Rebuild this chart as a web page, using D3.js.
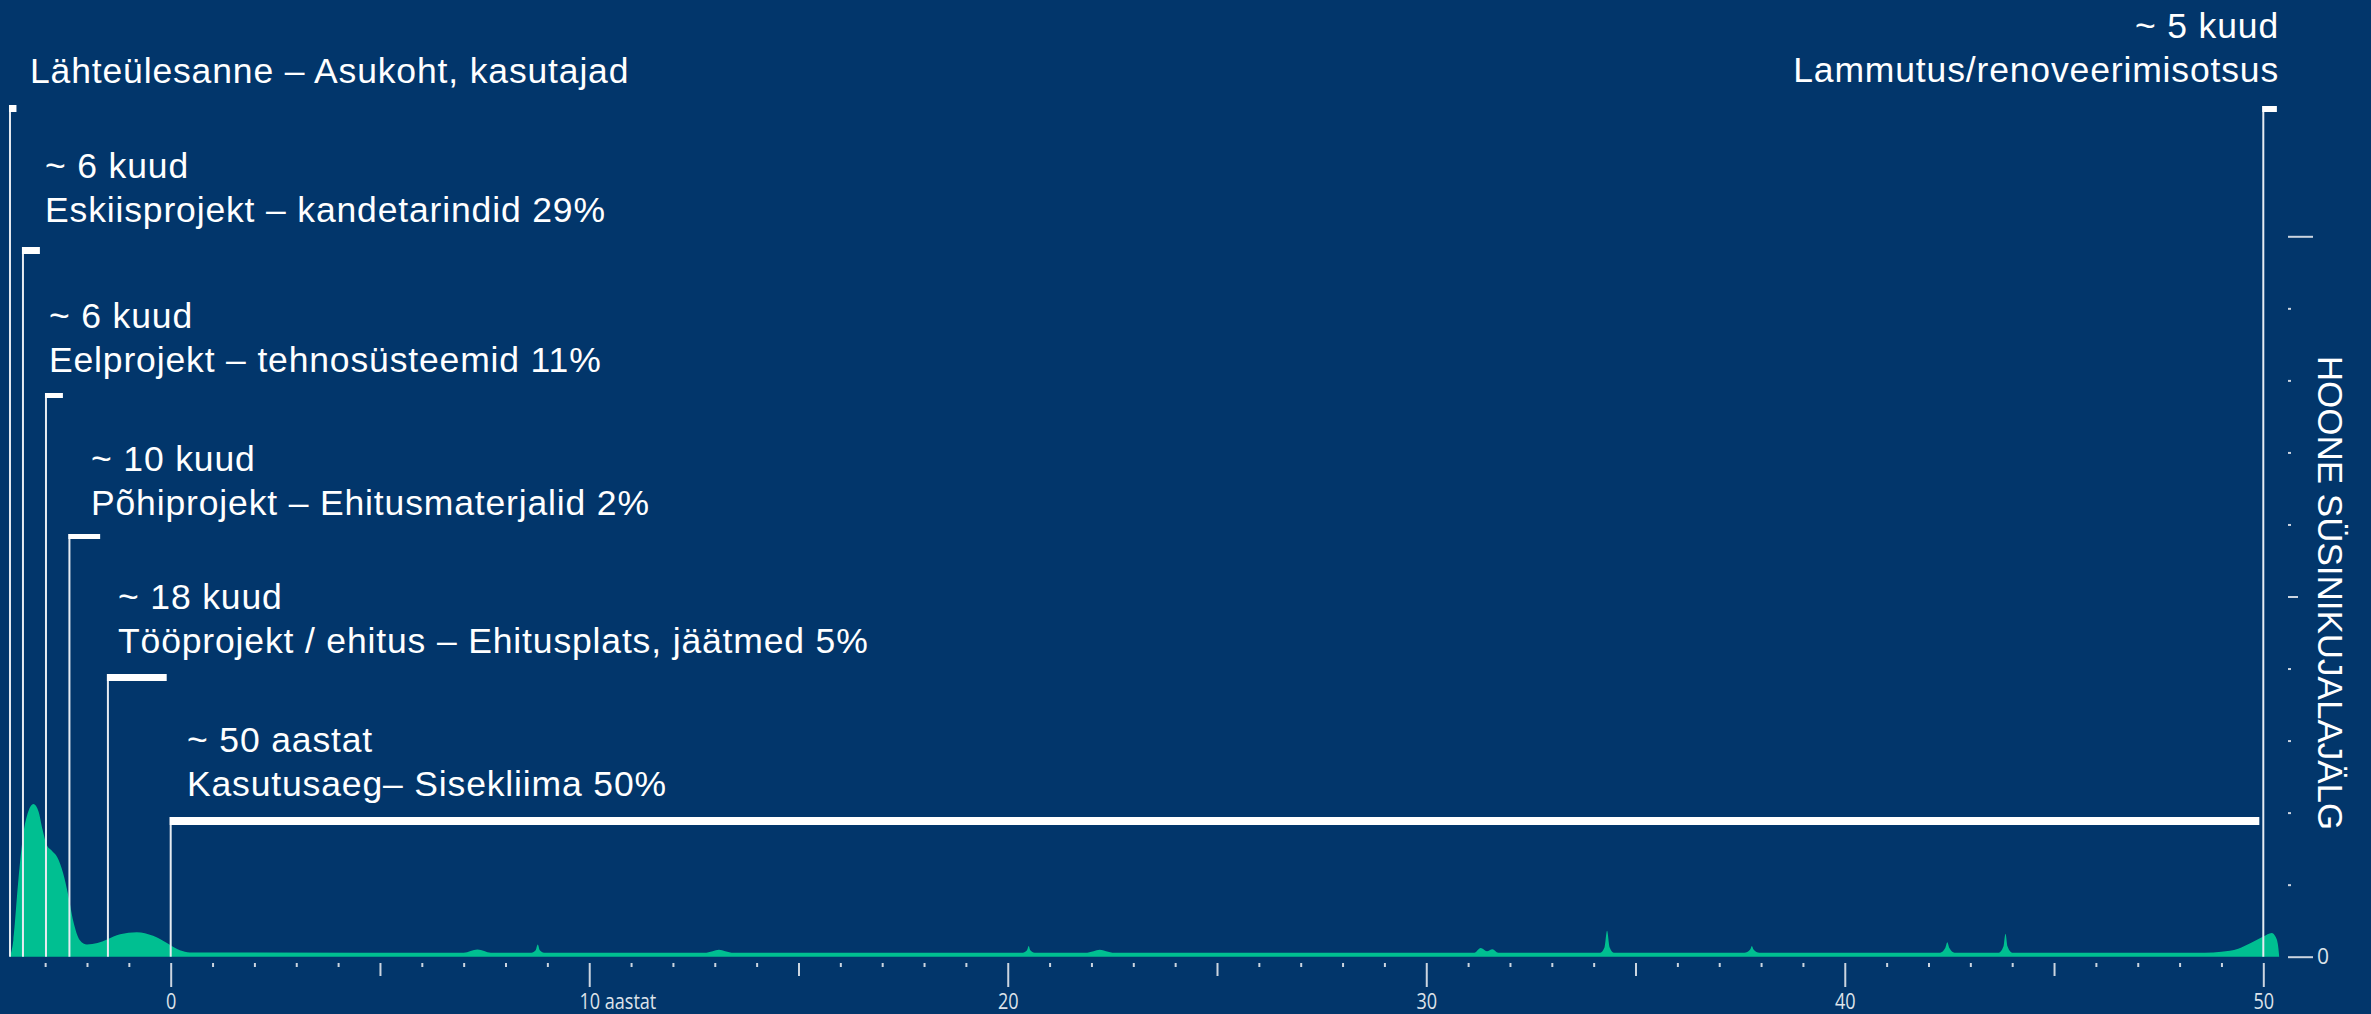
<!DOCTYPE html>
<html><head><meta charset="utf-8">
<script src="https://cdn.jsdelivr.net/npm/d3@7"></script>
<style>html,body{margin:0;padding:0;background:#02366b;} svg{display:block}</style>
</head><body><svg id="c" width="2371" height="1014"></svg>
<script>
// ---------- DATA ----------
// carbon footprint curve (years relative to start of use phase, relative footprint units)
const years = [
  -3.84, -3.76, -3.64, -3.52, -3.40, -3.28, -3.16, -3.06, -2.96, -2.84, -2.71, -2.57, -2.45, -2.33, -2.17, -2.00,
  -1.75, -1.52, -1.21, -0.81, -0.42, -0.09, 0.22, 0.46,
  7.00, 7.33, 7.65,
  8.62, 8.72, 8.77, 8.82, 8.92,
  12.80, 13.10, 13.40,
  20.36, 20.46, 20.50, 20.54, 20.64,
  21.90, 22.20, 22.50,
  31.15, 31.30, 31.45, 31.58, 31.72,
  34.16, 34.26, 34.32, 34.38, 34.48,
  37.60, 37.74, 37.78, 37.82, 37.96,
  42.28, 42.40, 42.45, 42.50, 42.62,
  43.68, 43.79, 43.84, 43.89, 44.00,
  48.60, 49.00, 49.40, 49.70, 50.00, 50.20, 50.30, 50.36, 50.38
];
const footprint = [
  0.00, 0.23, 1.06, 1.71, 2.02, 2.12, 2.02, 1.76, 1.55, 1.47, 1.38, 1.16, 0.86, 0.50, 0.23, 0.17,
  0.19, 0.24, 0.31, 0.34, 0.29, 0.19, 0.09, 0.06,
  0.056, 0.10, 0.056,
  0.056, 0.09, 0.17, 0.09, 0.056,
  0.056, 0.095, 0.056,
  0.056, 0.09, 0.15, 0.09, 0.056,
  0.056, 0.095, 0.056,
  0.056, 0.12, 0.075, 0.105, 0.056,
  0.056, 0.13, 0.36, 0.13, 0.056,
  0.056, 0.10, 0.15, 0.10, 0.056,
  0.056, 0.12, 0.20, 0.12, 0.056,
  0.056, 0.14, 0.32, 0.14, 0.056,
  0.056, 0.07, 0.11, 0.19, 0.28, 0.33, 0.27, 0.12, 0.00
];
const xTickValues = d3.range(-3, 51);
const xLabelValues = [0, 10, 20, 30, 40, 50];
const xLabelTexts = ["0", "10 aastat", "20", "30", "40", "50"];
const yTickValues = d3.range(0, 11);
const yLabelValues = [0];
const yTitle = "HOONE SÜSINIKUJALAJÄLG";

// project phases
const phaseNames = [
  "Lähteülesanne – Asukoht, kasutajad",
  "Eskiisprojekt – kandetarindid 29%",
  "Eelprojekt – tehnosüsteemid 11%",
  "Põhiprojekt – Ehitusmaterjalid 2%",
  "Tööprojekt / ehitus – Ehitusplats, jäätmed 5%",
  "Kasutusaeg– Sisekliima 50%",
  "Lammutus/renoveerimisotsus"
];
const phaseDurations = ["", "~ 6 kuud", "~ 6 kuud", "~ 10 kuud", "~ 18 kuud", "~ 50 aastat", "~ 5 kuud"];
const phaseStart = [-3.84, -3.53, -2.98, -2.42, -1.50, 0, 50];
const phaseLength = [0.25, 0.5, 0.5, 0.83, 1.5, 50, 0.42];

// ---------- LAYOUT (pixels) ----------
const tierY = [105, 247, 393, 534, 674, 817, 106];
const flagH = [7, 7, 5, 5, 7, 8, 6];
const labelX = [30, 45, 49, 91, 118, 187, 2279];
const nameBase = [83, 222, 372, 515, 653, 796, 82];
const labelAnchor = ["start", "start", "start", "start", "start", "start", "end"];

const BG = "#02366b", GREEN = "#00bf91", LINE = "#e6ebf1", TICK = "#ccd5e0", TICKTXT = "#dde3ea";

const W = 2371, H = 1014;
const svg = d3.select("#c");
svg.append("rect").attr("width", W).attr("height", H).attr("fill", BG);

const x = d3.scaleLinear().domain([0, 50]).range([170.7, 2263.3]);
const y = d3.scaleLinear().domain([0, 10]).range([956.7, 236.3]);

// area
const pts = years.map((t, i) => [t, footprint[i]]);
const area = d3.area().x(d => x(d[0])).y0(y(0)).y1(d => y(d[1])).curve(d3.curveMonotoneX);
svg.append("path").datum(pts).attr("d", area).attr("fill", GREEN);

// x axis
const gx = svg.append("g").attr("transform", "translate(0,963)")
  .call(d3.axisBottom(x).tickValues(xTickValues).tickSize(4)
    .tickFormat(d => { const i = xLabelValues.indexOf(d); return i >= 0 ? xLabelTexts[i] : ""; }));
gx.select(".domain").remove();
gx.attr("font-family", "'Open Sans', sans-serif").attr("font-size", 21);
gx.selectAll(".tick line").attr("stroke", TICK).attr("stroke-width", 2)
  .attr("y2", d => d % 10 === 0 ? 24 : (d % 5 === 0 ? 13 : 4));
gx.selectAll(".tick text").attr("y", 46).attr("dy", 0).attr("fill", TICKTXT)
  .attr("transform", "scale(0.86,1)");
// "10 aastat": centre the number on the tick
gx.selectAll(".tick text").filter(d => d === 10).each(function () {
  const t = d3.select(this);
  const tmp = gx.append("text").attr("font-size", 21).text("10");
  const w = tmp.node().getComputedTextLength();
  tmp.remove();
  t.attr("text-anchor", "start").attr("x", -w / 2);
});

// right axis
const gy = svg.append("g").attr("transform", "translate(2288,0)")
  .call(d3.axisRight(y).tickValues(yTickValues).tickSize(3)
    .tickFormat(d => yLabelValues.includes(d) ? String(d) : ""));
gy.select(".domain").remove();
gy.attr("font-family", "'Open Sans', sans-serif").attr("font-size", 21);
gy.selectAll(".tick line").attr("stroke", TICK).attr("stroke-width", 2)
  .attr("x2", d => d % 10 === 0 ? 25 : (d % 5 === 0 ? 10 : 3));
gy.selectAll(".tick text").attr("x", 29).attr("fill", TICKTXT);

// phase brackets
const phases = phaseNames.map((n, i) => ({ i, n, d: phaseDurations[i], s: phaseStart[i], l: phaseLength[i] }));
const gb = svg.append("g");
gb.selectAll("line.v").data(phases).join("line").attr("class", "v")
  .attr("x1", d => x(d.s)).attr("x2", d => x(d.s))
  .attr("y1", d => tierY[d.i]).attr("y2", y(0))
  .attr("stroke", LINE).attr("stroke-width", 2);
gb.selectAll("rect.f").data(phases).join("rect").attr("class", "f")
  .attr("x", d => x(d.s) - 1).attr("y", d => tierY[d.i])
  .attr("width", d => x(d.s + d.l) - 4 - (x(d.s) - 1))
  .attr("height", d => flagH[d.i])
  .attr("fill", "#ffffff");

// labels
const gl = svg.append("g").attr("font-family", "'Liberation Sans', Arial, sans-serif")
  .attr("font-size", 35.5).attr("fill", "#ffffff").style("letter-spacing", "0.85px");
phases.forEach(p => {
  gl.append("text").attr("x", labelX[p.i]).attr("y", nameBase[p.i])
    .attr("text-anchor", labelAnchor[p.i]).text(p.n);
  if (p.d) gl.append("text").attr("x", labelX[p.i]).attr("y", nameBase[p.i] - 44)
    .attr("text-anchor", labelAnchor[p.i]).text(p.d);
});

// vertical title
svg.append("text").attr("transform", "translate(2318,593) rotate(90)")
  .attr("text-anchor", "middle").attr("font-family", "'Liberation Sans', Arial, sans-serif")
  .attr("font-size", 35).attr("fill", "#ffffff").text(yTitle);
</script>
</body></html>
